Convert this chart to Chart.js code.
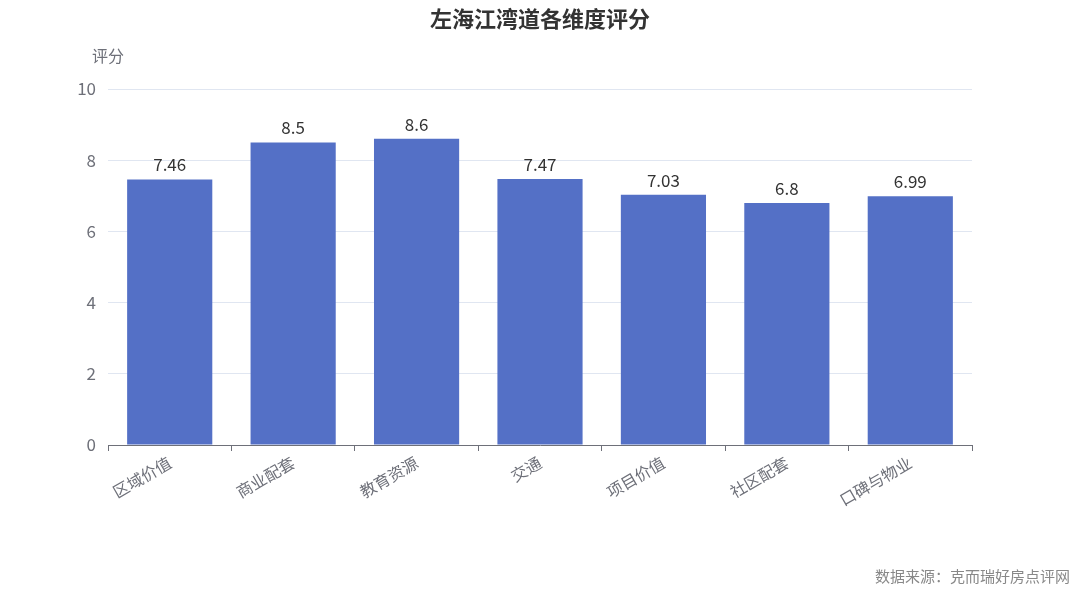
<!DOCTYPE html>
<html><head><meta charset="utf-8">
<script src="https://cdn.jsdelivr.net/npm/chart.js@4"></script>
<style>html,body{margin:0;padding:0;background:#fff}#c{width:1080px;height:593px}</style>
</head><body>
<div id="c"><canvas id="chart"></canvas></div>
<script>
const categories = ["区域价值", "商业配套", "教育资源", "交通", "项目价值", "社区配套", "口碑与物业"];
const scores = [7.46, 8.5, 8.6, 7.47, 7.03, 6.8, 6.99];
const yTicks = [0, 2, 4, 6, 8, 10];

const FONT = '"Noto Sans CJK SC", "Noto Sans", sans-serif';

const extras = {
  id: "extras",
  afterDatasetsDraw(chart) {
    const ctx = chart.ctx;
    const meta = chart.getDatasetMeta(0);
    ctx.save();
    ctx.font = "17px " + FONT;
    ctx.fillStyle = "#333";
    ctx.textAlign = "center";
    ctx.textBaseline = "bottom";
    meta.data.forEach((bar, i) => {
      ctx.fillText(String(scores[i]), bar.x, bar.y - 6);
    });
    ctx.font = "bold 22px " + FONT;
    ctx.textBaseline = "middle";
    ctx.fillText("左海江湾道各维度评分", 540, 19);
    ctx.font = "16px " + FONT;
    ctx.fillStyle = "#6e7079";
    ctx.fillText("评分", 108, 56);
    ctx.textAlign = "right";
    ctx.fillStyle = "#888";
    ctx.font = "15px " + FONT;
    ctx.fillText("数据来源：克而瑞好房点评网", 1070, 576);
    ctx.restore();
  }
};

new Chart(document.getElementById("chart"), {
  type: "bar",
  data: {
    labels: categories,
    datasets: [{ data: scores, backgroundColor: "#5470c6", barPercentage: 0.69, categoryPercentage: 1 }]
  },
  options: {
    responsive: true,
    maintainAspectRatio: false,
    animation: false,
    layout: { padding: { top: 89, right: 108, left: 0, bottom: 0 } },
    plugins: { legend: { display: false }, tooltip: { enabled: false } },
    scales: {
      x: {
        afterFit(s) { s.height = 148; },
        grid: { display: true, drawOnChartArea: false, offset: true, color: "#6e7079", tickLength: 6 },
        border: { color: "#6e7079" },
        ticks: { color: "#6e7079", font: { size: 16, family: FONT }, maxRotation: 30, minRotation: 30, padding: 2 }
      },
      y: {
        min: 0, max: 10,
        afterFit(s) { s.width = 108; },
        afterBuildTicks(s) { s.ticks = yTicks.map(v => ({ value: v })); },
        border: { display: false },
        grid: { color: "#e0e6f1", drawTicks: false },
        ticks: { color: "#6e7079", font: { size: 17, family: FONT }, padding: 12 }
      }
    }
  },
  plugins: [extras]
});
</script>
</body></html>
